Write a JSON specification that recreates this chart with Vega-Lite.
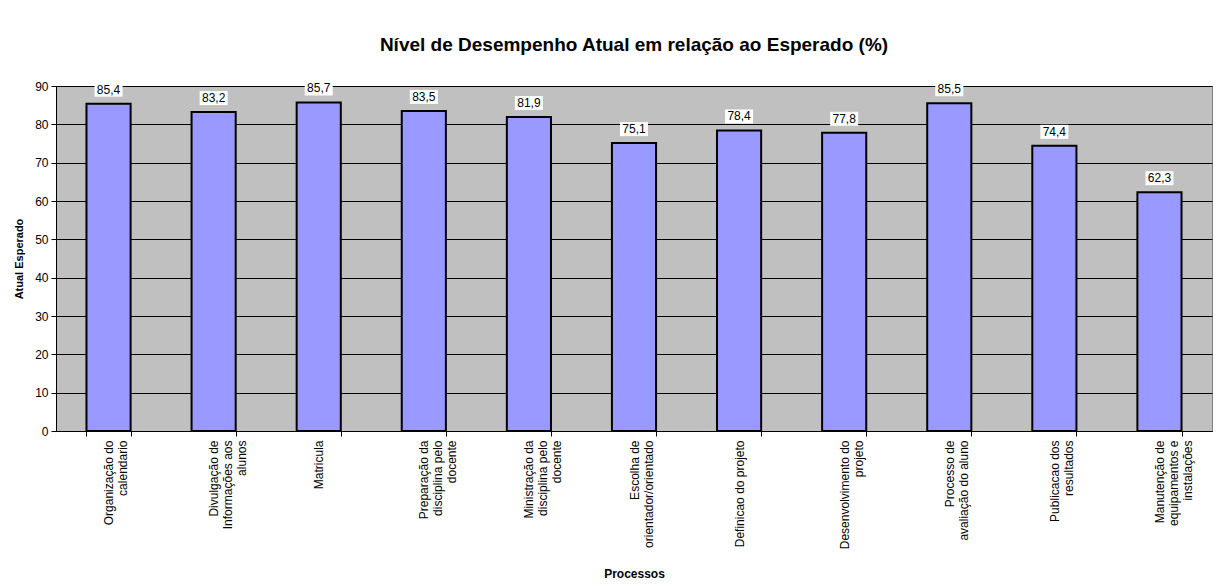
{
  "$schema": "https://vega.github.io/schema/vega-lite/v6.json",
  "width": 1156,
  "height": 345,
  "autosize": "none",
  "padding": {"left": 56, "top": 86, "right": 4, "bottom": 154},
  "background": "white",
  "title": {
    "text": "Nível de Desempenho Atual em relação ao Esperado (%)",
    "font": "Liberation Sans",
    "fontSize": 19,
    "fontWeight": "bold",
    "color": "black",
    "offset": 25,
    "anchor": "middle"
  },
  "config": {
    "locale": {"number": {"decimal": ",", "thousands": ".", "grouping": [3], "currency": ["", ""]}},
    "view": {"fill": "#C0C0C0", "stroke": "#808080", "strokeWidth": 1},
    "font": "Liberation Sans"
  },
  "data": {
    "values": [
      {"processo": "Organização do|calendario", "valor": 85.4},
      {"processo": "Divulgação de|Informações aos|alunos", "valor": 83.2},
      {"processo": "Matricula", "valor": 85.7},
      {"processo": "Preparação da|disciplina pelo|docente", "valor": 83.5},
      {"processo": "Ministração da|disciplina pelo|docente", "valor": 81.9},
      {"processo": "Escolha de|orientador/orientado", "valor": 75.1},
      {"processo": "Definicao do projeto", "valor": 78.4},
      {"processo": "Desenvolvimento do|projeto", "valor": 77.8},
      {"processo": "Processo de|avaliação do aluno", "valor": 85.5},
      {"processo": "Publicacao dos|resultados", "valor": 74.4},
      {"processo": "Manutenção de|equipamentos e|instalações", "valor": 62.3}
    ]
  },
  "encoding": {
    "x": {
      "field": "processo",
      "type": "nominal",
      "sort": null,
      "scale": {"paddingInner": 0.58, "paddingOuter": 0.29},
      "axis": {
        "title": "Processos",
        "titleFont": "Liberation Sans",
        "titleFontSize": 12,
        "titleFontWeight": "bold",
        "titleColor": "black",
        "titlePadding": 20,
        "labelAngle": -90,
        "labelAlign": "right",
        "labelBaseline": "middle",
        "labelExpr": "split(datum.label, '|')",
        "labelFont": "Liberation Sans",
        "labelFontSize": 12,
        "labelColor": "black",
        "labelLineHeight": 14,
        "labelPadding": 4,
        "labelLimit": 200,
        "tickBand": "extent",
        "tickColor": "black",
        "tickSize": 5,
        "domainColor": "black",
        "grid": false
      }
    },
    "y": {
      "field": "valor",
      "type": "quantitative",
      "scale": {"domain": [0, 90], "nice": false},
      "axis": {
        "title": "Atual Esperado",
        "titleFont": "Liberation Sans",
        "titleFontSize": 11,
        "titleFontWeight": "bold",
        "titleColor": "black",
        "titlePadding": 10,
        "values": [0, 10, 20, 30, 40, 50, 60, 70, 80, 90],
        "labelFont": "Liberation Sans",
        "labelFontSize": 12,
        "labelColor": "black",
        "labelPadding": 3,
        "tickColor": "black",
        "tickSize": 5,
        "domainColor": "black",
        "grid": true,
        "gridColor": "black",
        "gridWidth": 1,
        "gridOpacity": 1
      }
    }
  },
  "layer": [
    {
      "mark": {"type": "bar", "color": "#9999FF", "stroke": "black", "strokeWidth": 2}
    },
    {
      "mark": {"type": "point", "shape": "M-1,-0.5H1V0.5H-1Z", "size": 784, "filled": true, "color": "white", "opacity": 1, "strokeWidth": 0, "yOffset": -14}
    },
    {
      "mark": {"type": "text", "dy": -14, "font": "Liberation Sans", "fontSize": 12, "color": "black", "baseline": "middle"},
      "encoding": {
        "text": {"field": "valor", "type": "quantitative", "format": ".1f"}
      }
    }
  ]
}
